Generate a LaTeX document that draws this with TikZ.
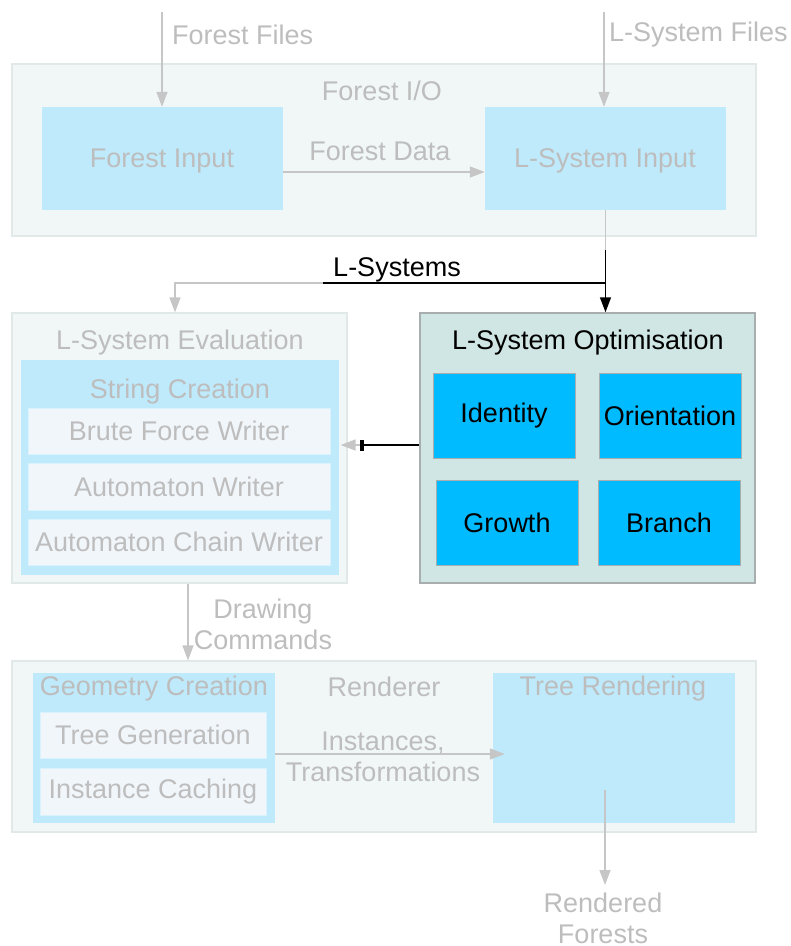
\documentclass[tikz,border=0pt]{standalone}
\usepackage{fontspec}
\setmainfont{Liberation Sans}
\usepackage{xcolor}
\usepackage{tikz}
\usetikzlibrary{arrows.meta, positioning}

\definecolor{clusterfill}{HTML}{F1F7F7}
\definecolor{clusterline}{HTML}{E0E8E8}
\definecolor{boxfill}{HTML}{BFEAFC}
\definecolor{subfill}{HTML}{F1F6FB}
\definecolor{fadetext}{HTML}{BDBDBD}
\definecolor{fadeline}{HTML}{C6C6C6}
\definecolor{optfill}{HTML}{CFE6E4}
\definecolor{optline}{HTML}{A8AEAE}
\definecolor{deepfill}{HTML}{00BBFF}

\begin{document}
\begin{tikzpicture}[x=1pt, y=-1pt, >={Triangle[length=15pt, width=11pt]}]
		\tikzstyle{cluster} = [draw=clusterline, fill=clusterfill, line width=1.2pt, inner sep=0pt]
		\tikzstyle{lightbox} = [draw=none, fill=boxfill, inner sep=0pt]
		\tikzstyle{subbox} = [draw=boxfill!60!white, fill=subfill, inner sep=0pt, text=fadetext, font=\fontsize{27}{31}\selectfont]
		\tikzstyle{deepbox} = [draw=optline, fill=deepfill, line width=1pt, inner sep=0pt, minimum width=142pt, minimum height=85pt, font=\fontsize{27}{31}\selectfont]
		\tikzstyle{invis} = [draw=none, inner sep=0pt, text=fadetext, font=\fontsize{27}{31}\selectfont]
		\tikzstyle{invisdark} = [draw=none, inner sep=0pt, text=black, font=\fontsize{27}{31}\selectfont]
		\tikzstyle{fadearrow} = [draw=fadeline, line width=1.5pt, ->, >={Triangle[length=15pt, width=11pt]}, fadeline]
		\tikzstyle{darkline} = [draw=black, line width=1.5pt]
		
		\useasboundingbox (0, 0) rectangle (791, 946);
		
		% clusters
		\node[cluster, minimum width=744pt, minimum height=172pt]	at (384, 150)		(forestio)	{};
		\node[cluster, minimum width=335pt, minimum height=270pt]	at (179.5, 448)		(lseval)	{};
		\node[draw=optline, fill=optfill, line width=1.5pt, inner sep=0pt, minimum width=335pt, minimum height=270pt]	at (587.5, 448)	(lsopt)	{};
		\node[cluster, minimum width=744pt, minimum height=171pt]	at (384, 746.5)		(rend)	{};
		
		\node[invis]		at (382, 91)		(forestiolbl)	{Forest I/O};
		\node[invis]		at (180, 343)		(lsevallbl)	{L-System Evaluation};
		\node[invisdark]	at (588, 343)		(lsoptlbl)	{L-System Optimisation};
		\node[invis]		at (384, 687)		(rendlbl)	{Renderer};
		
		% forest i/o
		\node[lightbox, minimum width=241pt, minimum height=103pt]	at (162.5, 158.5)	(fin)	{};
		\node[invis]	at (162, 161)	{Forest Input};
		\node[lightbox, minimum width=241pt, minimum height=103pt]	at (605.5, 158.5)	(lsin)	{};
		\node[invis]	at (605, 161)	{L-System Input};
		
		% evaluation
		\node[lightbox, minimum width=318pt, minimum height=215pt]	at (180, 467.5)	(strc)	{};
		\node[invis]	at (180, 392)	(strclbl)	{String Creation};
		\node[subbox, minimum width=302pt, minimum height=46pt]	at (179, 431)		(bfw)	{Brute Force Writer};
		\node[subbox, minimum width=302pt, minimum height=47pt]	at (179, 486.5)	(aw)	{Automaton Writer};
		\node[subbox, minimum width=302pt, minimum height=46pt]	at (179, 542)		(acw)	{Automaton Chain Writer};
		
		% optimisation
		\node[deepbox]	at (504, 415.5)	(ident)	{Identity};
		\node[deepbox]	at (670, 415.5)	(orient)	{Orientation};
		\node[deepbox]	at (507, 522.5)	(growth)	{Growth};
		\node[deepbox]	at (669, 522.5)	(branch)	{Branch};
		
		% renderer
		\node[lightbox, minimum width=242pt, minimum height=150pt]	at (154, 748)	(geo)	{};
		\node[invis]	at (154, 689)	(geolbl)	{Geometry Creation};
		\node[subbox, minimum width=226pt, minimum height=46pt]	at (153, 735)		(treegen)	{Tree Generation};
		\node[subbox, minimum width=226pt, minimum height=47pt]	at (153, 791.5)	(instc)	{Instance Caching};
		\node[lightbox, minimum width=242pt, minimum height=150pt]	at (614, 748)	(trr)	{};
		\node[invis]	at (613, 689)	(trrlbl)	{Tree Rendering};
		
		% free ends
		\coordinate (fftop)		at (162, 12);
		\coordinate (lftop)		at (604, 12);
		\coordinate (lsjoin)	at (175, 283);
		\coordinate (lsbar)		at (323, 283);
		\coordinate (rfout)		at (605, 790);
		\coordinate (rfend)		at (605, 885);
		
		% edge labels
		\node[invis, anchor=west]	at (172, 35)	(fflbl)	{Forest Files};
		\node[invis, anchor=west]	at (609, 35)	(lflbl)	{L-System Files};
		\node[invis]		at (380, 151)	(fdlbl)	{Forest Data};
		\node[invisdark]	at (397, 270)	(lslbl)	{L-Systems};
		\node[invis, align=center]	at (263, 624)	(dclbl)	{Drawing\\Commands};
		\node[invis, align=center]	at (383, 757)	(itlbl)	{Instances,\\Transformations};
		\node[invis, align=center]	at (603, 918)	(rflbl)	{Rendered\\Forests};
		
		% edges
		\draw[fadearrow]	(fftop) -- (fftop |- fin.north);
		\draw[fadearrow]	(lftop) -- (lftop |- lsin.north);
		\draw[fadearrow]	([yshift=-13.5pt]fin.east) -- ([yshift=-13.5pt]lsin.west);
		\draw[fadearrow]	(lsin.south) |- (lsjoin) -- (lsjoin |- lseval.north);
		\draw[darkline]		(lsbar) -- (lsin.south |- lsbar);
		\draw[darkline, ->]	([yshift=-40pt]lsin.south) -- (lsin.south |- lsopt.north);
		\draw[fadearrow]	([yshift=3pt]lsopt.west) -- ([xshift=-7pt, yshift=3pt]lseval.east);
		\draw[darkline, -{Rectangle[length=4pt, width=11pt]}]	([yshift=3pt]lsopt.west) -- ([xshift=12pt, yshift=3pt]lseval.east);
		\draw[fadearrow]	([xshift=8.5pt]lseval.south) -- ([xshift=8.5pt]lseval.south |- rend.north);
		\draw[fadearrow]	([yshift=-6pt]geo.east) -- ([xshift=12pt, yshift=-6pt]trr.west);
		\draw[fadearrow]	(rfout) -- (rfend);
	\end{tikzpicture}
\end{document}
